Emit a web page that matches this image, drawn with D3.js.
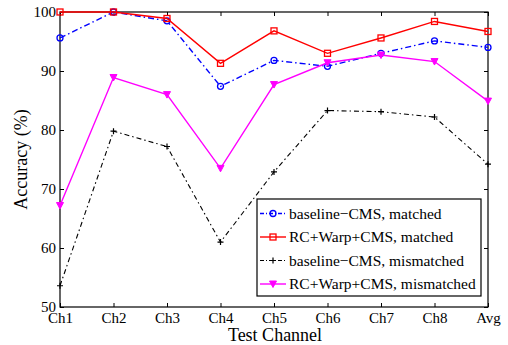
<!DOCTYPE html>
<html>
<head>
<meta charset="utf-8">
<script src="https://cdn.jsdelivr.net/npm/d3@7"></script>
<style>
  body { margin: 0; background: #fff; }
  svg, svg text { font-family: "Liberation Serif", "Times New Roman", serif !important; }
  svg { display: block; }
</style>
</head>
<body>
<svg width="508" height="345"></svg>
<script>
const channels = ["Ch1", "Ch2", "Ch3", "Ch4", "Ch5", "Ch6", "Ch7", "Ch8", "Avg"];
const baselineMatched = [95.6, 100, 98.5, 87.4, 91.8, 90.8, 93.0, 95.1, 94.0];
const rcWarpMatched = [100, 100, 98.9, 91.3, 96.8, 93.0, 95.6, 98.4, 96.7];
const baselineMismatched = [53.6, 79.8, 77.2, 61.0, 72.9, 83.3, 83.1, 82.2, 74.2];
const rcWarpMismatched = [67.2, 88.9, 86.0, 73.5, 87.7, 91.4, 92.7, 91.6, 84.9];
const yTicks = [50, 60, 70, 80, 90, 100];

const series = [
  { name: "baseline\u2212CMS, matched", values: baselineMatched, color: "#0000ff", dash: "6,3,1.5,3", marker: "circle" },
  { name: "RC+Warp+CMS, matched", values: rcWarpMatched, color: "#ff0000", dash: null, marker: "square" },
  { name: "baseline\u2212CMS, mismatched", values: baselineMismatched, color: "#000000", dash: "5,3,1.5,3", marker: "plus" },
  { name: "RC+Warp+CMS, mismatched", values: rcWarpMismatched, color: "#ff00ff", dash: null, marker: "tri" }
];

const svg = d3.select("svg");
const margin = { left: 60, right: 20, top: 12, bottom: 38 };
const width = +svg.attr("width");
const height = +svg.attr("height");
const x0 = margin.left, x1 = width - margin.right;
const y0 = height - margin.bottom, y1 = margin.top;

const x = d3.scalePoint().domain(channels).range([x0, x1]);
const y = d3.scaleLinear().domain([50, 100]).range([y0, y1]);

// axes: ticks inward on all four sides
svg.append("g").attr("transform", `translate(0,${y0})`)
  .call(d3.axisBottom(x).tickSize(-4).tickPadding(5))
  .call(g => g.select(".domain").remove());
svg.append("g").attr("transform", `translate(0,${y1})`)
  .call(d3.axisTop(x).tickSize(-4).tickFormat(""))
  .call(g => g.select(".domain").remove());
svg.append("g").attr("transform", `translate(${x0},0)`)
  .call(d3.axisLeft(y).tickValues(yTicks).tickSize(-4).tickPadding(4))
  .call(g => g.select(".domain").remove());
svg.append("g").attr("transform", `translate(${x1},0)`)
  .call(d3.axisRight(y).tickValues(yTicks).tickSize(-4).tickFormat(""))
  .call(g => g.select(".domain").remove());

svg.selectAll(".tick text")
  .attr("font-size", 15)
  .attr("fill", "#000");
svg.selectAll(".tick line").attr("stroke", "#000").attr("stroke-width", 1);

svg.append("rect")
  .attr("x", x0).attr("y", y1)
  .attr("width", x1 - x0).attr("height", y0 - y1)
  .attr("fill", "none").attr("stroke", "#000").attr("stroke-width", 1.2);

const line = d3.line().x((d, i) => x(channels[i])).y(d => y(d));

function drawMarker(g, type, color, cx, cy) {
  if (type === "circle") {
    g.append("circle").attr("cx", cx).attr("cy", cy).attr("r", 3)
      .attr("fill", "none").attr("stroke", color).attr("stroke-width", 1.3);
  } else if (type === "square") {
    g.append("rect").attr("x", cx - 3).attr("y", cy - 3).attr("width", 6).attr("height", 6)
      .attr("fill", "none").attr("stroke", color).attr("stroke-width", 1.3);
  } else if (type === "plus") {
    g.append("path").attr("d", `M${cx - 3},${cy}H${cx + 3}M${cx},${cy - 3}V${cy + 3}`)
      .attr("stroke", color).attr("stroke-width", 1.2);
  } else if (type === "tri") {
    g.append("path").attr("d", `M${cx - 3.5},${cy - 3}L${cx + 3.5},${cy - 3}L${cx},${cy + 3.5}Z`)
      .attr("fill", color).attr("stroke", color).attr("stroke-width", 1);
  }
}

series.forEach(s => {
  const g = svg.append("g");
  g.append("path")
    .attr("d", line(s.values))
    .attr("fill", "none")
    .attr("stroke", s.color)
    .attr("stroke-width", s.marker === "plus" ? 1.1 : 1.4)
    .attr("stroke-dasharray", s.dash);
  s.values.forEach((v, i) => drawMarker(g, s.marker, s.color, x(channels[i]), y(v)));
});

// legend
const lg = svg.append("g").attr("transform", "translate(257,199)");
lg.append("rect").attr("width", 224).attr("height", 97)
  .attr("fill", "#fff").attr("stroke", "#000").attr("stroke-width", 1.2);
series.forEach((s, i) => {
  const ly = 14.5 + i * 23.5;
  lg.append("line").attr("x1", 3).attr("x2", 29).attr("y1", ly).attr("y2", ly)
    .attr("stroke", s.color).attr("stroke-width", s.marker === "plus" ? 1.1 : 1.4)
    .attr("stroke-dasharray", s.dash ? "4,2,1,2" : null);
  drawMarker(lg, s.marker, s.color, 16, ly);
  lg.append("text").attr("x", 32).attr("y", ly + 5)
    .attr("font-size", 15.5).text(s.name);
});

svg.append("text")
  .attr("x", 275).attr("y", 341)
  .attr("text-anchor", "middle").attr("font-size", 18)
  .text("Test Channel");
svg.append("text")
  .attr("transform", `translate(27,${(y0 + y1) / 2}) rotate(-90)`)
  .attr("text-anchor", "middle").attr("font-size", 18)
  .text("Accuracy (%)");
</script>
</body>
</html>
